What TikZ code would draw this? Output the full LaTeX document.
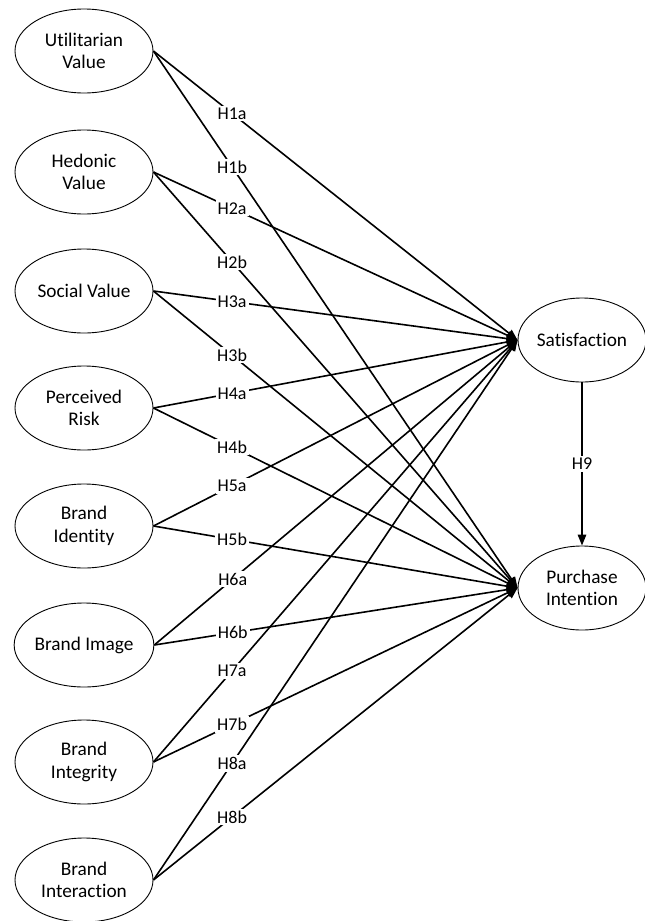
\documentclass[tikz,border=0pt]{standalone}
\usepackage{fontspec}
\setmainfont{Carlito}[Ligatures=NoCommon]
\usetikzlibrary{shapes.geometric,arrows.meta}

\begin{document}
\begin{tikzpicture}[x=1pt,y=-1pt,
    construct/.style={draw, ellipse, line width=0.9pt, minimum width=138pt,
        minimum height=84pt, inner sep=0pt, align=center,
        font=\fontsize{19.3}{22.5}\selectfont},
    hypo/.style={line width=1.6pt, -{Triangle[length=11pt,width=8.5pt]}},
    hlabel/.style={fill=white, inner sep=2pt, font=\fontsize{18}{21}\selectfont}]

\useasboundingbox (0,0) rectangle (645,921);

% === Antecedents ===
\node[construct] (util)   at (84,51)  {Utilitarian\\Value};
\node[construct] (hedon)  at (84,172) {Hedonic\\Value};
\node[construct] (social) at (84,291) {Social Value};
\node[construct] (risk)   at (84,408) {Perceived\\Risk};
\node[construct] (bident) at (84,526) {Brand\\Identity};
\node[construct] (bimage) at (84,645) {Brand Image};
\node[construct] (binteg) at (84,762) {Brand\\Integrity};
\node[construct] (binter) at (84,880) {Brand\\Interaction};

% === Outcomes ===
\node[construct, minimum width=128pt] (sat) at (582,340) {Satisfaction};
\node[construct, minimum width=128pt] (pur) at (582,588) {Purchase\\Intention};

% === Hypothesised paths ===
\foreach \src/\num in {util/1, hedon/2, social/3, risk/4,
                       bident/5, bimage/6, binteg/7, binter/8} {
    \draw[hypo] (\src.east) -- coordinate[pos=0.216] (h\num a) (sat.west);
    \draw[hypo] (\src.east) -- coordinate[pos=0.216] (h\num b) (pur.west);
}
\draw[hypo] (sat) -- coordinate (h9) (pur);

% labels on top of the lines
\foreach \num in {1,...,8} {
    \node[hlabel] at (h\num a) {H\num a};
    \node[hlabel] at (h\num b) {H\num b};
}
\node[hlabel] at (h9) {H9};

\end{tikzpicture}
\end{document}
